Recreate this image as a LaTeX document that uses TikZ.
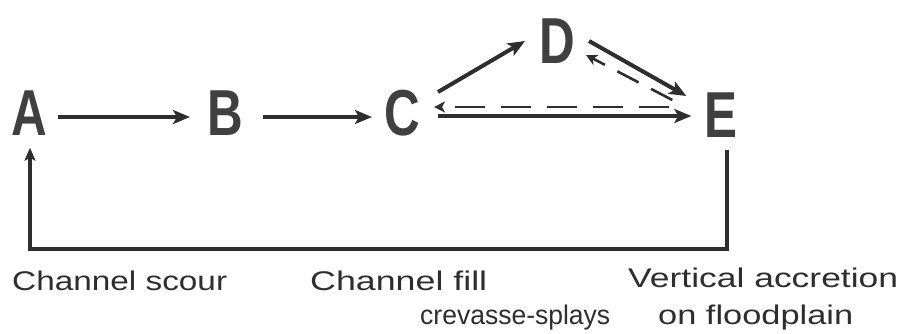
\documentclass[tikz,border=0pt]{standalone}
\usepackage{fontspec}
\setmainfont{Liberation Sans}
\newfontfamily\letterfont[FakeStretch=0.76]{Liberation Sans Bold}
\usetikzlibrary{arrows.meta,calc}
\definecolor{ink}{HTML}{2E2E2E}
\definecolor{letterink}{HTML}{404040}
\newcommand\fitw[2]{\resizebox{#1}{\height}{#2}}
\tikzset{
  letter/.style={inner sep=0pt, text height=47pt, text depth=0pt, text=letterink,
    font=\letterfont\fontsize{65}{65}\selectfont},
  label/.style={inner sep=0pt, anchor=base west, text=ink,
    font=\fontsize{27}{27}\selectfont},
  solidarr/.style={draw=ink, line width=4pt,
    -{Stealth[length=17pt,width=14pt,inset=4pt]}},
  dasharr/.style={draw=ink, line width=2.6pt, dash pattern=on 30pt off 16pt,
    -{Stealth[length=11pt,width=11pt,inset=3pt]}},
  dasharrb/.style={dasharr, dash pattern=on 24pt off 14pt},
  loopline/.style={draw=ink, line width=3.2pt,
    -{Stealth[length=13pt,width=11pt,inset=3pt]}}
}
\begin{document}
\begin{tikzpicture}[x=1pt,y=-1pt]
\useasboundingbox (0,0) rectangle (904,333);
\node[letter] (A) at (29,112) {A};
\node[letter] (B) at (225,112) {B};
\node[letter] (C) at (402,112) {C};
\node[letter] (D) at (557,40) {D};
\node[letter] (E) at (721,114) {E};

\draw[solidarr] ([xshift=11pt,yshift=-5pt]A.east) -- ([xshift=-17pt,yshift=-5pt]B.west);
\draw[solidarr] ([xshift=20pt,yshift=-5pt]B.east) -- ([xshift=-12pt,yshift=-5pt]C.west);
\draw[solidarr] ([xshift=18pt,yshift=20pt]C.east) -- ([xshift=-14pt,yshift=-1pt]D.west);
\draw[solidarr] ([xshift=14pt,yshift=-1pt]D.east) -- ([xshift=-18pt,yshift=18pt]E.west);
\draw[dasharrb] ([xshift=-32pt,yshift=14pt]E.west) -- ([xshift=11pt,yshift=-15pt]D.east);
\draw[dasharr] ([xshift=-35pt,yshift=7pt]E.west) -- ([xshift=14pt,yshift=5pt]C.east);
\draw[solidarr] ([xshift=18pt,yshift=-4pt]C.east) -- ([xshift=-13pt,yshift=-2pt]E.west);

\coordinate (Lr) at (727,249);
\coordinate (Ll) at (30,249);
\draw[loopline] ([xshift=6pt,yshift=-12pt]E.south) -- (Lr) -- (Ll) -- ([xshift=1pt,yshift=-12pt]A.south);

\node[label] (l1) at (12,290) {\fitw{215pt}{Channel scour}};
\node[label] (l2) at (310,290) {\fitw{177pt}{Channel fill}};
\node[label] (l3) at (628,287) {\fitw{270pt}{Vertical accretion}};
\node[label] (l4) at (420,324) {\fitw{190pt}{crevasse-splays}};
\node[label] (l5) at (658,324) {\fitw{195pt}{on floodplain}};
\end{tikzpicture}
\end{document}
